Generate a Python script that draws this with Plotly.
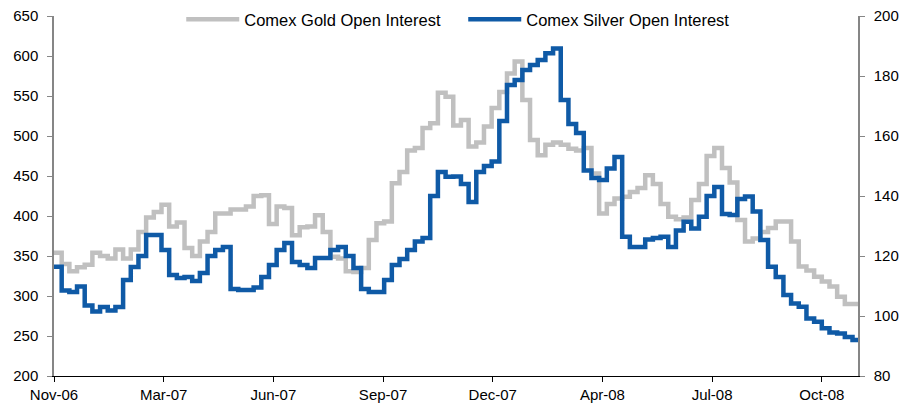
import pandas as pd
import plotly.graph_objects as go

# Weekly observations starting 24-Nov-2006
start_date = "2006-11-24"
n_weeks = 106

gold_oi = [354, 340, 331, 336, 339, 354, 350, 347, 358, 347,
           358, 380, 398, 405, 414, 387, 392, 360, 350, 368,
           380, 403, 403, 408, 408, 412, 425, 426, 390, 412,
           410, 376, 386, 387, 401, 380, 349, 347, 331, 330,
           335, 370, 391, 393, 441, 455, 482, 485, 510, 516,
           554, 549, 513, 520, 487, 492, 512, 535, 555, 578,
           593, 545, 495, 476, 489, 492, 489, 484, 482, 485,
           453, 403, 415, 422, 424, 430, 435, 451, 440, 415,
           399, 396, 398, 420, 440, 475, 485, 460, 442, 395,
           368, 372, 380, 385, 393, 393, 368, 337, 332, 324,
           318, 312, 299, 290, 290, 290]

silver_oi = [116.4, 108.5, 108, 109.8, 103.5, 101.5, 103, 101.8, 103, 112,
             116.3, 120, 127, 127, 122, 113.7, 112.7, 113, 111.7, 114.3,
             120, 122, 123, 109, 108.7, 108.7, 109.5, 113, 117, 122,
             124.3, 118, 117, 116, 119.3, 119.3, 122, 123, 120, 116,
             109, 108, 108, 112, 117, 119, 122, 124.8, 126, 140,
             148, 146.4, 146.5, 144, 138, 148, 150, 151.5, 165, 177,
             178.7, 182, 183.7, 185.3, 187.6, 189.2, 172, 164, 161, 148.5,
             146, 145.3, 149.2, 153, 126.4, 123, 123, 125.5, 126, 126.4,
             123, 128.5, 131.4, 129.2, 133.1, 140, 143, 134, 133.7, 139,
             139.8, 134.8, 125.3, 116.4, 113, 107, 104.2, 103.1, 99.2, 98.1,
             95.9, 94.5, 94.2, 93, 92, 92]

tick_labels = ["Nov-06", "Mar-07", "Jun-07", "Sep-07", "Dec-07", "Apr-08", "Jul-08", "Oct-08"]

dates = pd.date_range(start_date, periods=n_weeks, freq="7D")
t0 = pd.Timestamp(start_date)
tick_vals = [t0 + pd.Timedelta(days=100 * i) for i in range(len(tick_labels))]
x_end = t0 + pd.Timedelta(days=733)

tick_font = dict(family="Liberation Sans, Arial, sans-serif", size=15, color="#000000")
legend_font = dict(family="Liberation Sans, Arial, sans-serif", size=16.5, color="#000000")

fig = go.Figure()
fig.add_trace(go.Scatter(
    x=dates, y=gold_oi, name="Comex Gold Open Interest", mode="lines",
    line=dict(color="#C0C0C0", width=4.5, shape="hv"), yaxis="y"))
fig.add_trace(go.Scatter(
    x=dates, y=silver_oi, name="Comex Silver Open Interest", mode="lines",
    line=dict(color="#0F5AA6", width=4.5, shape="hv"), yaxis="y2"))

# the page body adds an 8px offset; the figure is sized to sit inside the 913x404 view
fig.update_layout(
    width=905, height=396,
    margin=dict(l=46, r=55, t=8, b=28, autoexpand=False),
    paper_bgcolor="white", plot_bgcolor="white",
    font=tick_font,
    showlegend=True,
    legend=dict(orientation="h", x=0.509, xanchor="center", y=0.99, yanchor="middle",
                bgcolor="rgba(0,0,0,0)", font=legend_font, itemwidth=53,
                entrywidth=214, traceorder="normal"),
    xaxis=dict(type="date", range=[t0, x_end], tickvals=tick_vals, ticktext=tick_labels,
               showgrid=False, zeroline=False, showline=True, linecolor="#000000",
               linewidth=1, ticks="outside", ticklen=5, tickcolor="#000000",
               tickfont=tick_font, automargin=False, ticklabeloverflow="allow"),
    yaxis=dict(range=[200, 650], dtick=50, tick0=200, showgrid=False, zeroline=False,
               showline=True, linecolor="#868686", linewidth=1.5, ticks="outside",
               ticklen=5, tickcolor="#868686", tickfont=tick_font, ticklabelstandoff=6,
               automargin=False, ticklabeloverflow="allow"),
    yaxis2=dict(range=[80, 200], dtick=20, tick0=80, overlaying="y", side="right",
                showgrid=False, zeroline=False, showline=True, linecolor="#868686",
                linewidth=1.5, ticks="outside", ticklen=5, tickcolor="#868686",
                tickfont=tick_font, ticklabelstandoff=6, automargin=False,
                ticklabeloverflow="allow"),
)

fig.write_html("out.html")
